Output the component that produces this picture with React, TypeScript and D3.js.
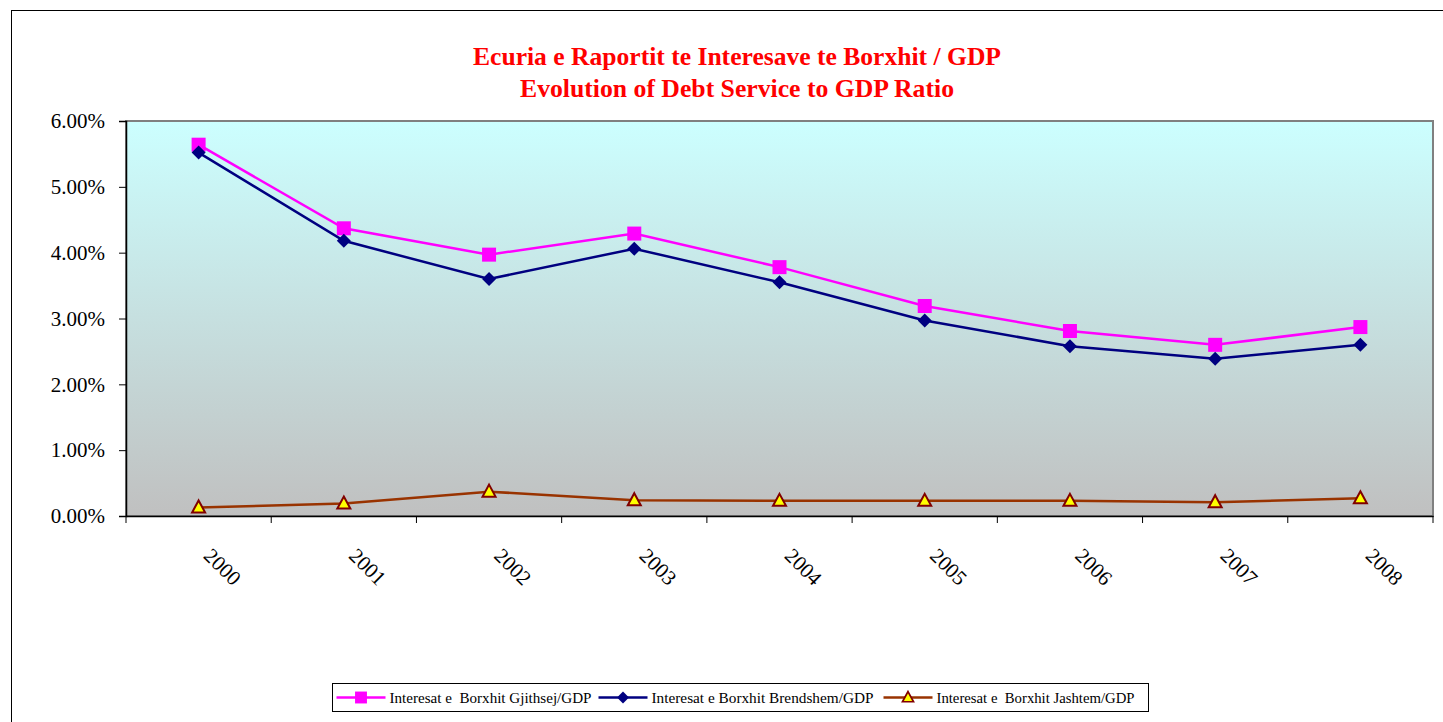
import React, { useEffect, useRef } from 'react';
import * as d3 from 'd3';

const years = ['2000', '2001', '2002', '2003', '2004', '2005', '2006', '2007', '2008'];
const totalDebt = [5.64, 4.37, 3.97, 4.29, 3.78, 3.19, 2.81, 2.6, 2.87];
const domesticDebt = [5.52, 4.18, 3.6, 4.06, 3.55, 2.97, 2.58, 2.39, 2.6];
const foreignDebt = [0.13, 0.19, 0.37, 0.24, 0.23, 0.23, 0.23, 0.21, 0.27];
const yTicks = [0, 1, 2, 3, 4, 5, 6];
const titleLines = ['Ecuria e Raportit te Interesave te Borxhit / GDP', 'Evolution of Debt Service to GDP Ratio'];

const seriesList = [
  { name: 'Interesat e  Borxhit Gjithsej/GDP', values: totalDebt, color: '#FF00FF', marker: 'square' },
  { name: 'Interesat e Borxhit Brendshem/GDP', values: domesticDebt, color: '#000080', marker: 'diamond' },
  { name: 'Interesat e  Borxhit Jashtem/GDP', values: foreignDebt, color: '#993300', marker: 'triangle' }
];

const W = 1443;
const H = 722;
const font = "'Liberation Serif', 'DejaVu Serif', serif";

const drawMarker = (g: any, type: string, x: number, y: number) => {
  if (type === 'square') {
    g.append('rect')
      .attr('x', x - 7)
      .attr('y', y - 7)
      .attr('width', 14)
      .attr('height', 14)
      .attr('fill', '#FF00FF');
  } else if (type === 'diamond') {
    g.append('path')
      .attr('d', `M${x},${y - 7}L${x + 7},${y}L${x},${y + 7}L${x - 7},${y}Z`)
      .attr('fill', '#000080');
  } else {
    g.append('path')
      .attr('d', `M${x},${y - 7}L${x + 6.5},${y + 5}L${x - 6.5},${y + 5}Z`)
      .attr('fill', '#FFFF00')
      .attr('stroke', '#800000')
      .attr('stroke-width', 2);
  }
};

export default function App() {
  const svgRef = useRef<SVGSVGElement>(null);

  useEffect(() => {
    const svg = d3.select(svgRef.current);
    svg.selectAll('*').remove();

    const margin = { top: 121, right: 10, bottom: 206, left: 126 };
    const width = W - margin.left - margin.right;
    const height = H - margin.top - margin.bottom;

    const grad = svg
      .append('defs')
      .append('linearGradient')
      .attr('id', 'bg')
      .attr('x1', 0)
      .attr('y1', 0)
      .attr('x2', 0)
      .attr('y2', 1);
    grad.append('stop').attr('offset', '0%').attr('stop-color', '#CCFFFF');
    grad.append('stop').attr('offset', '100%').attr('stop-color', '#C0C0C0');

    // outer chart frame
    svg
      .append('rect')
      .attr('x', 11.5)
      .attr('y', 10.5)
      .attr('width', W + 20)
      .attr('height', H + 20)
      .attr('fill', '#fff')
      .attr('stroke', '#000');

    const titleWidths = [528, 434];
    svg
      .selectAll('.title')
      .data(titleLines)
      .enter()
      .append('text')
      .attr('x', 737)
      .attr('y', (d, i) => 65 + i * 32)
      .attr('text-anchor', 'middle')
      .attr('textLength', (d, i) => titleWidths[i])
      .attr('lengthAdjust', 'spacingAndGlyphs')
      .style('font-family', font)
      .style('font-size', '25px')
      .style('font-weight', 'bold')
      .attr('fill', '#FF0000')
      .text(d => d);

    const x = d3.scaleBand().domain(years).range([0, width]);
    const y = d3.scaleLinear().domain([0, 6]).range([height, 0]);

    const g = svg.append('g').attr('transform', `translate(${margin.left}, ${margin.top})`);

    g.append('rect')
      .attr('width', width)
      .attr('height', height)
      .attr('fill', 'url(#bg)')
      .attr('stroke', '#808080')
      .attr('stroke-width', 2);

    // y axis
    const yAxis = g.append('g').call(
      d3
        .axisLeft(y)
        .tickValues(yTicks)
        .tickSize(7)
        .tickFormat(d => `${(+d).toFixed(2)}%`)
    );
    yAxis.attr('font-family', null);
    yAxis.select('.domain').attr('stroke', '#000').attr('stroke-width', 1.5);
    yAxis.selectAll('.tick line').attr('stroke', '#000');
    yAxis
      .selectAll('.tick text')
      .style('font-family', font)
      .style('font-size', '21px')
      .attr('fill', '#000')
      .attr('x', -21);

    // x axis
    const xAxis = g
      .append('g')
      .attr('transform', `translate(0, ${height})`)
      .call(d3.axisBottom(x).tickSize(0).tickSizeOuter(0));
    xAxis.attr('font-family', null);
    xAxis.select('.domain').attr('stroke', '#000').attr('stroke-width', 1.5);
    xAxis.selectAll('.tick text').remove();

    const bounds = d3.range(years.length + 1).map(i => i * x.step());
    xAxis
      .selectAll('.xtick')
      .data(bounds)
      .enter()
      .append('line')
      .attr('x1', d => d)
      .attr('x2', d => d)
      .attr('y1', 0)
      .attr('y2', 7)
      .attr('stroke', '#000');

    xAxis
      .selectAll('.xlabel')
      .data(years)
      .enter()
      .append('text')
      .attr('transform', d => `translate(${x(d)! + x.bandwidth() / 2 + 4}, 41) rotate(45)`)
      .style('font-family', font)
      .style('font-size', '21px')
      .attr('fill', '#000')
      .attr('text-anchor', 'start')
      .text(d => d);

    const cx = (i: number) => x(years[i])! + x.bandwidth() / 2;

    seriesList.forEach(s => {
      const line = d3
        .line<number>()
        .x((d, i) => cx(i))
        .y(d => y(d));
      g.append('path')
        .datum(s.values)
        .attr('d', line)
        .attr('fill', 'none')
        .attr('stroke', s.color)
        .attr('stroke-width', 2.5);
      s.values.forEach((v, i) => drawMarker(g, s.marker, cx(i), y(v)));
    });

    // legend
    const lg = svg.append('g').attr('transform', 'translate(332.5, 683.5)');
    lg.append('rect')
      .attr('width', 816)
      .attr('height', 28)
      .attr('fill', '#fff')
      .attr('stroke', '#000');
    const offsets = [4, 266, 551];
    const textWidths = [202, 222, 198];
    seriesList.forEach((s, i) => {
      const item = lg.append('g').attr('transform', `translate(${offsets[i]}, 14)`);
      item
        .append('line')
        .attr('x1', 0)
        .attr('x2', 49)
        .attr('stroke', s.color)
        .attr('stroke-width', 2.5);
      const mg = item.append('g').attr('transform', 'translate(24.5, 0) scale(0.85)');
      drawMarker(mg, s.marker, 0, 0);
      item
        .append('text')
        .attr('x', 53)
        .attr('y', 5)
        .attr('textLength', textWidths[i])
        .attr('lengthAdjust', 'spacingAndGlyphs')
        .attr('xml:space', 'preserve')
        .style('white-space', 'pre')
        .style('font-family', font)
        .style('font-size', '15px')
        .attr('fill', '#000')
        .text(s.name);
    });
  }, []);

  return (
    <svg
      ref={svgRef}
      width={W}
      height={H}
      style={{ position: 'absolute', left: 0, top: 0, display: 'block' }}
    />
  );
}
